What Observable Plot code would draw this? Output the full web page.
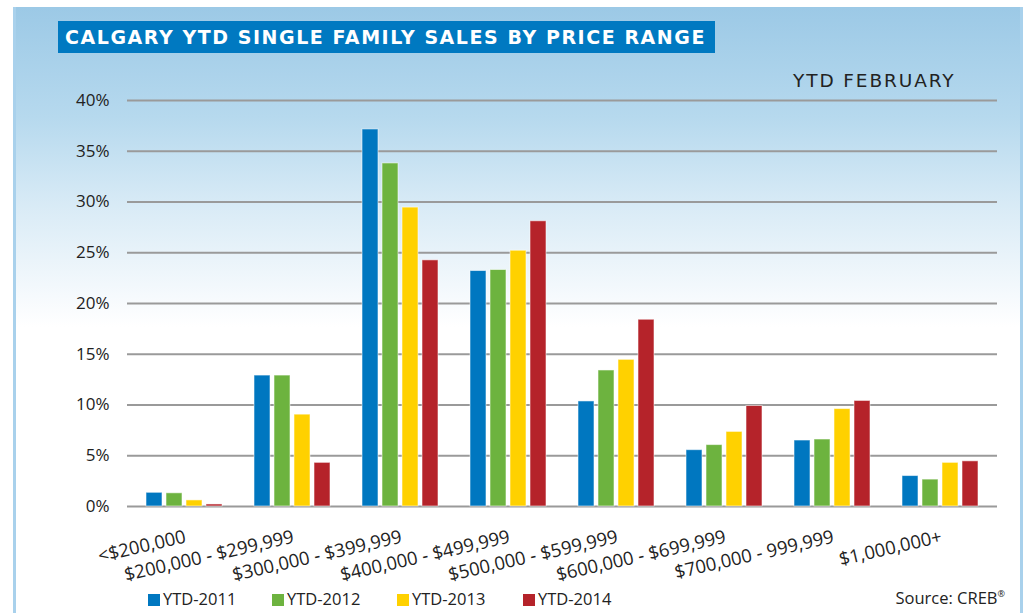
<!DOCTYPE html>
<html>
<head>
<meta charset="utf-8">
<script src="https://cdn.jsdelivr.net/npm/d3@7"></script>
<script src="https://cdn.jsdelivr.net/npm/@observablehq/plot@0.6"></script>
<style>
  html, body { margin: 0; padding: 0; background: #fff; width: 1028px; height: 613px; overflow: hidden; font-family: "Open Sans", sans-serif; }
  #panel { position: absolute; left: 13px; top: 7px; width: 1004px; height: 620px;
    border-left: 3px solid #a9d1ec; border-right: 3px solid #a9d1ec;
    background: linear-gradient(to bottom, #9cc9e6 0px, #b6d9ee 110px, #d9ebf6 200px, #f6fafd 290px, #ffffff 320px, #ffffff 100%); }
  #title { position: absolute; left: 58px; top: 21px; width: 657px; height: 32px; background: #0079c1; color: #fff;
    font-family: "DejaVu Sans", sans-serif; font-weight: 700; font-size: 19px; line-height: 32px; padding-left: 7px; box-sizing: border-box; white-space: nowrap; letter-spacing: 1.55px; }
  #sub { position: absolute; left: 793px; top: 70px; font-family: "DejaVu Sans", sans-serif; font-size: 18.5px; color: #222; white-space: nowrap; letter-spacing: 1.9px; }
  .chart { position: absolute; left: 0; top: 0; }
  #legend { position: absolute; left: 148px; top: 587px; font-size: 16.5px; color: #222; white-space: nowrap; }
  #legend span.item { position: absolute; top: 0; }
  #legend span.sw { display: inline-block; width: 12px; height: 12px; margin-right: 3px; vertical-align: -1px; }
  #source { position: absolute; right: 23px; top: 586px; font-size: 16.5px; color: #222; white-space: nowrap; }
  #source sup { font-size: 9px; vertical-align: 7px; }
</style>
</head>
<body>
<div id="panel"></div>
<div id="title">CALGARY YTD SINGLE FAMILY SALES BY PRICE RANGE</div>
<div id="sub">YTD FEBRUARY</div>
<div id="grid" class="chart"></div>
<div id="bars" class="chart"></div>
<div id="legend"></div>
<div id="source">Source: CREB<sup>®</sup></div>
<script>
const ranges = ["<$200,000", "$200,000 - $299,999", "$300,000 - $399,999", "$400,000 - $499,999",
  "$500,000 - $599,999", "$600,000 - $699,999", "$700,000 - 999,999", "$1,000,000+"];
const series = ["YTD-2011", "YTD-2012", "YTD-2013", "YTD-2014"];
const colors = ["#0077c0", "#6db33f", "#ffd100", "#b5232a"];
const v2011 = [1.35, 12.9, 37.15, 23.2, 10.35, 5.55, 6.5, 3.0];
const v2012 = [1.3, 12.9, 33.8, 23.3, 13.4, 6.05, 6.6, 2.65];
const v2013 = [0.6, 9.05, 29.45, 25.2, 14.45, 7.35, 9.6, 4.3];
const v2014 = [0.2, 4.3, 24.25, 28.1, 18.4, 9.9, 10.4, 4.45];
const yTicks = [0, 5, 10, 15, 20, 25, 30, 35, 40];

const valuesBySeries = [v2011, v2012, v2013, v2014];
const data = [];
ranges.forEach((r, i) => series.forEach((s, j) => data.push({range: r, series: s, value: valuesBySeries[j][i]})));

const common = {
  width: 1028,
  height: 586,
  marginTop: 100,
  marginBottom: 80,
  marginLeft: 127,
  marginRight: 31,
  style: {background: "transparent", fontFamily: "'Open Sans', sans-serif", fontSize: "17px", color: "#222"}
};

// layer 1: gridlines + y axis (unfaceted, full width)
const grid = Plot.plot({
  ...common,
  y: {domain: [0, 40], ticks: yTicks, tickFormat: d => d + "%", tickSize: 0, tickPadding: 18, label: null},
  marks: [
    Plot.ruleY(yTicks, {stroke: "#9a9a9a", strokeWidth: 2})
  ]
});
document.getElementById("grid").appendChild(grid);

// layer 2: grouped bars + category axis
const bars = Plot.plot({
  ...common,
  y: {domain: [0, 40], axis: null},
  fx: {domain: ranges, paddingInner: 0.28, paddingOuter: 0.14, label: null, axis: null},
  x: {domain: series, paddingInner: 0.22, paddingOuter: 0, axis: null},
  color: {domain: series, range: colors},
  marks: [
    Plot.barY(data, {fx: "range", x: "series", y: "value", fill: "series", stroke: "#ffffff", strokeOpacity: 0.55, strokeWidth: 1}),
    Plot.axisFx({anchor: "bottom", label: null, tickSize: 0, tickRotate: -13, tickPadding: 30, fontSize: 18.5, dx: 1})
  ]
});
document.getElementById("bars").appendChild(bars);

const legend = document.getElementById("legend");
const legendX = [0, 124, 249, 375];
series.forEach((s, i) => {
  const it = document.createElement("span");
  it.className = "item";
  it.style.left = legendX[i] + "px";
  it.innerHTML = `<span class="sw" style="background:${colors[i]}"></span>${s}`;
  legend.appendChild(it);
});
</script>
</body>
</html>
